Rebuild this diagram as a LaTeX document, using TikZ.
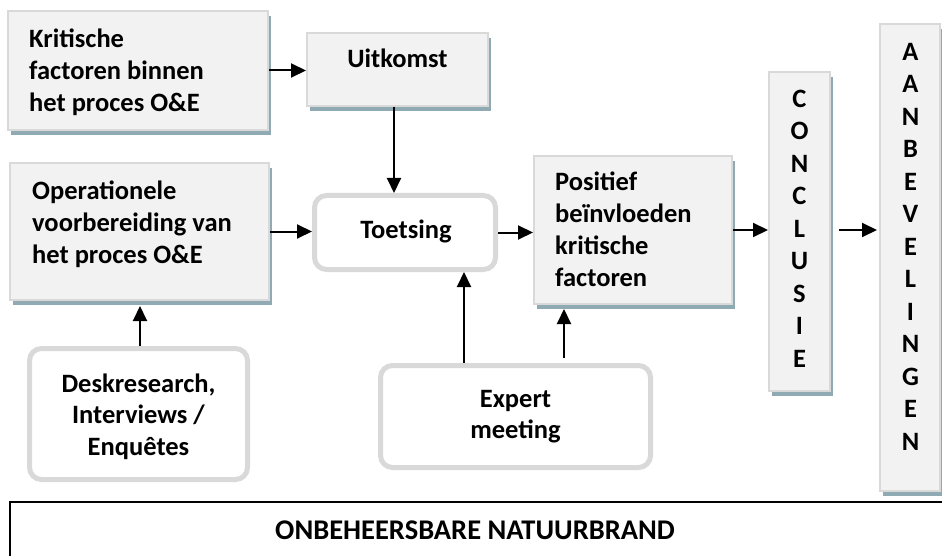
\documentclass[tikz,border=0pt]{standalone}
\usepackage{fontspec}
\setmainfont{Carlito}
\usetikzlibrary{arrows.meta,shadows,calc}
\definecolor{boxfill}{HTML}{F2F2F2}
\definecolor{boxline}{HTML}{D9D9D9}
\definecolor{shadowc}{HTML}{8FAAB2}
\tikzset{
  sqbox/.style={draw=boxline, line width=2pt, fill=boxfill, outer sep=1pt,
    general shadow={fill=shadowc, shadow xshift=2.5pt, shadow yshift=-5pt}},
  rndbox/.style={draw=boxline, line width=5pt, fill=white, rounded corners=12pt, outer sep=2.5pt},
  txt/.style={inner sep=0pt, font=\fontsize{26.5}{32}\selectfont\bfseries},
  vtxt/.style={inner sep=0pt, align=center, anchor=north, font=\fontsize{26.5}{32.5}\selectfont\bfseries},
  arr/.style={line width=2pt, -{Triangle[length=15pt,width=14pt]}},
}
\newcommand{\strt}{\rule{0pt}{20pt}}
\begin{document}
\begin{tikzpicture}[x=1pt,y=-1pt]
\clip (0,0) rectangle (942,556);
\fill[white] (0,0) rectangle (942,556);
% square boxes
\node[sqbox, minimum width=260pt, minimum height=119pt] (kf) at (138,70.5) {};
\node[sqbox, minimum width=181pt, minimum height=73pt] (uit) at (397.5,69.5) {};
\node[sqbox, minimum width=259pt, minimum height=137pt] (op) at (139.5,231.5) {};
\node[sqbox, minimum width=198pt, minimum height=148pt] (pos) at (633,230) {};
\node[sqbox, minimum width=61pt, minimum height=319pt] (con) at (799.5,231.5) {};
\node[sqbox, minimum width=60pt, minimum height=467pt] (aan) at (910,257.5) {};
% rounded boxes
\node[rndbox, minimum width=181pt, minimum height=74pt] (toet) at (405,232.5) {};
\node[rndbox, minimum width=218pt, minimum height=131pt] (des) at (138.5,414) {};
\node[rndbox, minimum width=270pt, minimum height=102pt] (exp) at (515.5,416.5) {};
% bottom frame
\node[draw=black, line width=2pt, outer sep=0pt, anchor=north west, minimum width=1000pt, minimum height=200pt] (bot) at (10,502) {};
% texts
\node[txt, anchor=north west, align=left] (kft) at (29,27) {\strt Kritische\\factoren binnen\\het proces O\&E};
\node[txt, anchor=base] (uitt) at (397.5,68) {Uitkomst};
\node[txt, anchor=north west, align=left] (opt) at (32,179) {\strt Operationele\\voorbereiding van\\het proces O\&E};
\node[txt, anchor=north west, align=left] (post) at (555,170) {\strt Positief\\beïnvloeden\\kritische\\factoren};
\node[txt, anchor=base] (toett) at (406,238) {Toetsing};
\node[txt, anchor=north, align=center, font=\fontsize{26.5}{31.5}\selectfont\bfseries] (dest) at (138.5,372) {\strt Deskresearch,\\Interviews /\\Enquêtes};
\node[txt, anchor=north, align=center, font=\fontsize{26.5}{31}\selectfont\bfseries] (expt) at (515.5,387) {\strt Expert\\meeting};
\node[vtxt] (cont) at (799.5,87) {\strt C\\O\\N\\C\\L\\U\\S\\I\\E};
\node[vtxt] (aant) at (910.5,40) {\strt A\\A\\N\\B\\E\\V\\E\\L\\I\\N\\G\\E\\N};
\node[txt, anchor=base, font=\fontsize{28.5}{32}\selectfont\bfseries] (bott) at (475,539) {ONBEHEERSBARE NATUURBRAND};
% arrows
\draw[arr] (kf.east) -- (kf.east -| uit.west);
\draw[arr] ($(uit.south)+(-3.5,0)$) -- ($(uit.south |- toet.north)+(-3.5,0)$);
\draw[arr] (op.east) -- (op.east -| toet.west);
\draw[arr] (toet.east) -- (toet.east -| pos.west);
\draw[arr] ($(des.north)+(1.5,0)$) -- ($(des.north |- op.south)+(1.5,5)$);
\draw[arr] ($(exp.north)+(-51.5,0)$) -- ($(exp.north |- toet.south)+(-51.5,0)$);
\draw[arr] ($(exp.north)+(48.5,-5)$) -- ($(exp.north |- pos.south)+(48.5,4)$);
\draw[arr] (pos.east) -- (pos.east -| con.west);
\draw[arr] ($(con.east)+(8,-1.5)$) -- ($(con.east -| aan.west)+(-2,-1.5)$);
\end{tikzpicture}
\end{document}
